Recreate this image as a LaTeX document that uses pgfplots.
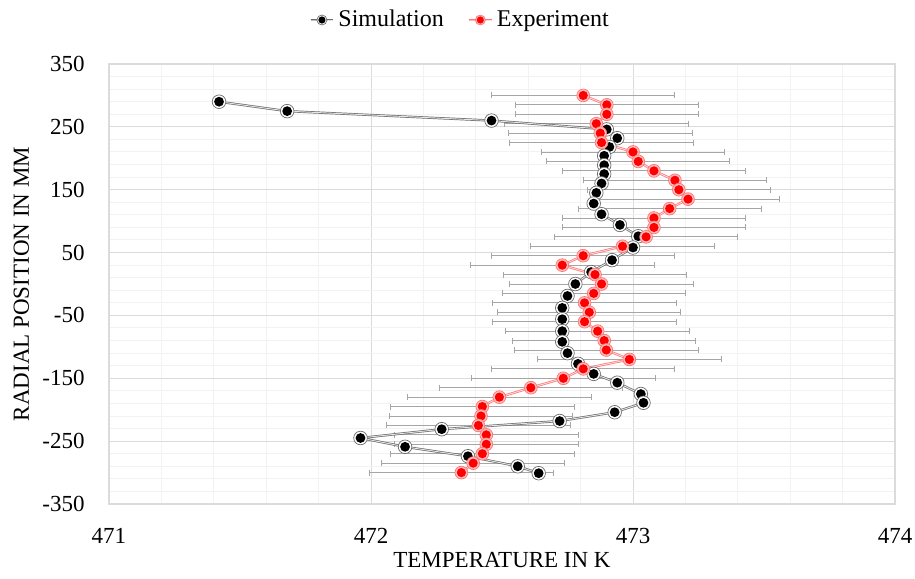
\documentclass[border=0pt]{standalone}
\usepackage{fontspec}
\setmainfont{Liberation Serif}
\usepackage{pgfplots}
\usepackage{pgfplotstable}
\pgfplotsset{compat=1.18}

% marker with a light ring, as in the spreadsheet chart
\pgfdeclareplotmark{simdot}{%
  \pgfsetlinewidth{0.35pt}%
  \pgfsetstrokecolor{gray!85!black}\pgfsetfillcolor{white}%
  \pgfpathcircle{\pgfpointorigin}{\pgfplotmarksize}%
  \pgfusepathqfillstroke
  \pgfsetfillcolor{black}%
  \pgfpathcircle{\pgfpointorigin}{0.72\pgfplotmarksize}%
  \pgfusepathqfill
}
\pgfdeclareplotmark{expdot}{%
  \pgfsetlinewidth{0.35pt}%
  \pgfsetstrokecolor{red!55}\pgfsetfillcolor{red!25}%
  \pgfpathcircle{\pgfpointorigin}{\pgfplotmarksize}%
  \pgfusepathqfillstroke
  \pgfsetfillcolor{red}%
  \pgfpathcircle{\pgfpointorigin}{0.72\pgfplotmarksize}%
  \pgfusepathqfill
}

% simulation: temperature (K), radial position (mm)
\pgfplotstableread{
x y
471.42 290
471.68 275
472.46 260
472.90 246
472.94 232
472.91 218
472.89 204
472.89 189
472.89 175
472.88 160
472.86 145
472.85 128
472.88 111
472.95 94
473.02 76
473.00 58
472.92 38
472.84 19
472.78 0
472.75 -19
472.73 -38
472.73 -56
472.73 -75
472.73 -92
472.75 -110
472.79 -127
472.85 -143
472.94 -157
473.03 -175
473.04 -189
472.93 -204
472.72 -218
472.27 -231
471.96 -245
472.13 -259
472.37 -274
472.56 -290
472.64 -301
}\simdata

% experiment
\pgfplotstableread{
x y
472.81 300
472.90 285
472.90 270
472.86 255
472.875 240
472.88 225
473.00 210
473.02 195
473.08 180
473.16 165
473.175 150
473.21 135
473.14 120
473.08 105
473.08 90
473.05 75
472.96 60
472.81 45
472.73 30
472.855 15
472.88 0
472.85 -15
472.815 -30
472.833 -45
472.815 -60
472.865 -75
472.89 -90
472.898 -105
472.986 -120
472.81 -135
472.734 -150
472.61 -165
472.49 -180
472.425 -195
472.42 -210
472.41 -225
472.44 -240
472.44 -255
472.425 -270
472.39 -285
472.345 -300
}\expdata

\begin{document}
\begin{tikzpicture}
\begin{axis}[
  scale only axis,
  width=393pt, height=220pt,
  xmin=471, xmax=474, ymin=-350, ymax=350,
  xtick={471,472,473,474},
  ytick={-350,-250,...,350},
  minor x tick num=4, minor y tick num=4,
  grid=both,
  major grid style={gray!28, line width=0.5pt},
  minor grid style={gray!10, line width=0.5pt},
  axis line style={gray!28, line width=0.6pt},
  tick style={draw=none},
  /pgf/number format/assume math mode=true,
  tick label style={font=\fontsize{11.5}{13}\selectfont, inner sep=0pt},
  yticklabel style={xshift=-12pt},
  xticklabel style={yshift=-12pt},
  xlabel={TEMPERATURE IN K},
  ylabel={RADIAL POSITION IN MM},
  label style={font=\fontsize{11.5}{13}\selectfont},
  xlabel style={at={(axis description cs:0.5,0)}, anchor=center, yshift=-28.25pt},
  ylabel style={at={(axis description cs:0,0.5)}, anchor=center, yshift=43.75pt},
  legend style={at={(axis description cs:0.448,1.1)}, anchor=center, draw=none, fill=none,
    font=\fontsize{12}{14}\selectfont, legend columns=2,
    /tikz/every even column/.append style={column sep=10pt}},
  legend image code/.code={\draw[mark repeat=2, mark phase=2, #1, mark size=2.5pt]
    plot coordinates {(0cm,0cm) (0.2cm,0cm) (0.4cm,0cm)};},
]
\coordinate (o) at (rel axis cs:0,0);

% error bars of the experiment, drawn below the markers
\addplot[gray!70, draw=none, mark=none, forget plot,
  error bars/.cd, x dir=both, x fixed=0.35, error mark=|,
  error bar style={draw=gray!70, solid, line width=0.45pt},
  error mark options={draw=gray!70, mark size=1.5pt, line width=0.45pt}]
  table {\expdata};

\addplot[draw=gray!85!black, double=gray!20, double distance=0.45pt, line width=0.35pt,
  mark=simdot, mark size=3.4pt]
  table {\simdata};

\addplot[draw=red!55, double=red!15, double distance=0.45pt, line width=0.35pt,
  mark=expdot, mark size=3.2pt]
  table {\expdata};

\legend{Simulation, Experiment}
\end{axis}
\pgfresetboundingbox
\path (o) ++(-54.5pt,-37pt) rectangle ++(457.5pt,289pt);
\end{tikzpicture}
\end{document}
